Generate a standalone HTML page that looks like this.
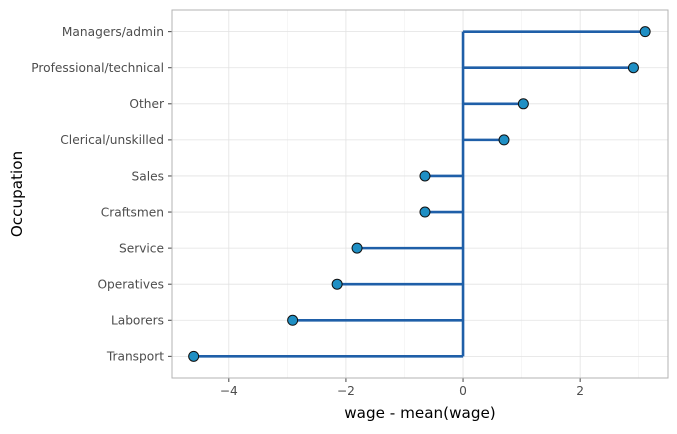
<!DOCTYPE html>
<html><head><meta charset="utf-8"><style>
body{margin:0;background:#fff;font-family:"DejaVu Sans","Liberation Sans",sans-serif;}
text{font-family:"DejaVu Sans","Liberation Sans",sans-serif;}
</style></head><body>
<svg id="chart" width="677" height="430" xmlns="http://www.w3.org/2000/svg"></svg>
<script>
const categories=["Transport","Laborers","Operatives","Service","Craftsmen","Sales","Clerical/unskilled","Other","Professional/technical","Managers/admin"];
const values=[-4.60,-2.91,-2.15,-1.81,-0.65,-0.65,0.70,1.03,2.91,3.11];
const xTicks=[-4,-2,0,2];
const xMinor=[-3,-1,1,3];
const svg=document.getElementById('chart');
const NS='http://www.w3.org/2000/svg';
const L=172,R=668,T=10,B=378;
const xMin=-4.97,xMax=3.50;
const x=v=>L+(v-xMin)/(xMax-xMin)*(R-L);
const y=i=>B-(i+1-0.4)/(categories.length+0.2)*(B-T);
function mk(tag,attrs,parent){const e=document.createElementNS(NS,tag);for(const k in attrs)e.setAttribute(k,attrs[k]);(parent||svg).appendChild(e);return e;}
const bg=mk('rect',{x:L,y:T,width:R-L,height:B-T,fill:'#fff'});


xMinor.forEach(v=>{const l=mk('line',{x1:x(v),x2:x(v),y1:T,y2:B,stroke:'#f0f0f0','stroke-width':0.6});

});
xTicks.forEach(v=>{const l=mk('line',{x1:x(v),x2:x(v),y1:T,y2:B,stroke:'#e2e2e2','stroke-width':0.8});


mk('line',{x1:x(v),x2:x(v),y1:B,y2:B+4,stroke:'#444'});
const t=mk('text',{x:x(v),y:B+17,'text-anchor':'middle','font-size':12.2,fill:'#4d4d4d'});t.textContent=v<0?'\u2212'+(-v):v;

});
categories.forEach((c,i)=>{const l=mk('line',{x1:L,x2:R,y1:y(i),y2:y(i),stroke:'#e2e2e2','stroke-width':0.8});


mk('line',{x1:L-4,x2:L,y1:y(i),y2:y(i),stroke:'#444'});
const t=mk('text',{x:L-8,y:y(i)+4.3,'text-anchor':'end','font-size':12.2,fill:'#4d4d4d'});t.textContent=c;

});
const vl=mk('line',{x1:x(0),x2:x(0),y1:y(0),y2:y(categories.length-1),stroke:'#1f5fa8','stroke-width':2.6});


values.forEach((v,i)=>{const s=mk('line',{x1:x(0),x2:x(v),y1:y(i),y2:y(i),stroke:'#1f5fa8','stroke-width':2.6});

});
values.forEach((v,i)=>{const p=mk('circle',{cx:x(v),cy:y(i),r:5,fill:'#1f8fc4',stroke:'#111','stroke-width':1});

});
const fr=mk('rect',{x:L,y:T,width:R-L,height:B-T,fill:'none',stroke:'#b3b3b3','stroke-width':1});


const xt=mk('text',{x:(L+R)/2,y:418,'text-anchor':'middle','font-size':15.2,fill:'#000'});xt.textContent='wage - mean(wage)';


const yt=mk('text',{x:0,y:0,'text-anchor':'middle','font-size':15.2,fill:'#000',transform:'translate(22,'+((T+B)/2)+') rotate(-90)'});yt.textContent='Occupation';


</script>
</body></html>
